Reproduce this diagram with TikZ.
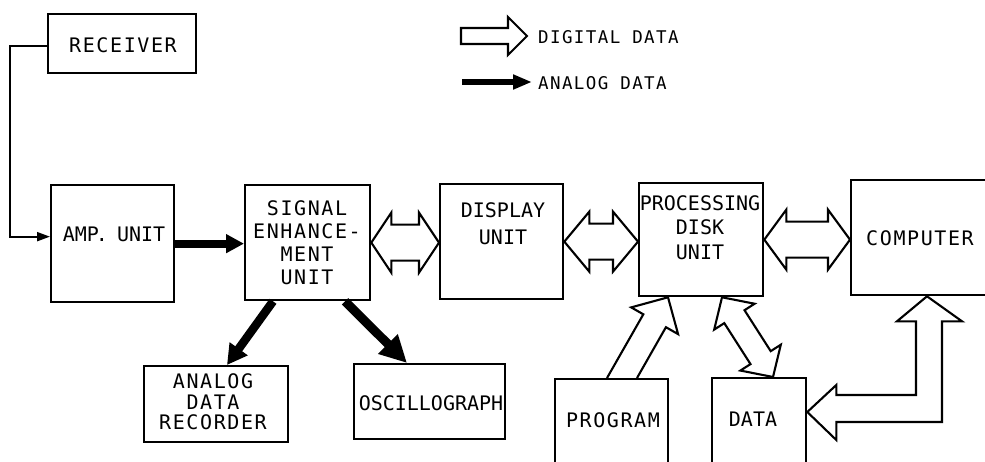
\documentclass[tikz,border=0pt]{standalone}
\usepackage{fontspec}
\newfontfamily\labtight{DejaVu Sans Mono}
\newfontfamily\labwide[LetterSpace=8]{DejaVu Sans Mono}
\usetikzlibrary{calc,arrows.meta}
\tikzset{
  box/.style={draw, line width=2.3pt, inner sep=0pt, anchor=north west},
  lbl/.style={font=\labwide\fontsize{20}{23}\selectfont, align=center, inner sep=0pt},
  lblt/.style={lbl, font=\labtight\fontsize{20}{23}\selectfont},
  legtxt/.style={font=\labwide\fontsize{17.5}{20}\selectfont, inner sep=0pt, anchor=west},
  digital/.style={draw, line width=2.1pt, line join=miter},
  analog/.style={line width=8pt, -{Triangle[length=18pt,width=18pt]}},
  wire/.style={line width=2pt, -{Triangle[length=13pt,width=9pt]}},
}
\newcommand\dblopen[5]{%
  \coordinate (dA) at ($(#1)!#3!(#2)$);
  \coordinate (dB) at ($(#2)!#3!(#1)$);
  \draw[digital] (#1) -- ($(dA)!#4!90:(#2)$) -- ($(dA)!#5!90:(#2)$)
    -- ($(dB)!#5!-90:(#1)$) -- ($(dB)!#4!-90:(#1)$) -- (#2)
    -- ($(dB)!#4!90:(#1)$) -- ($(dB)!#5!90:(#1)$)
    -- ($(dA)!#5!-90:(#2)$) -- ($(dA)!#4!-90:(#2)$) -- cycle;}
\begin{document}
\begin{tikzpicture}[x=1pt,y=-1pt]
\useasboundingbox (0,0) rectangle (985,462);
\fill[white] (0,0) rectangle (985,462);
\clip (0,0) rectangle (985,462);

% boxes
\node[box, minimum width=148pt, minimum height=59pt] (rec) at (47,13) {};
\node[box, minimum width=123pt, minimum height=117pt] (amp) at (50,184) {};
\node[box, minimum width=125pt, minimum height=115pt] (sig) at (244,184) {};
\node[box, minimum width=123pt, minimum height=115pt] (disp) at (439,183) {};
\node[box, minimum width=124pt, minimum height=113pt] (proc) at (638,182) {};
\node[box, minimum width=160pt, minimum height=115pt] (comp) at (850,179) {};
\node[box, minimum width=144pt, minimum height=76pt] (adr) at (143,365) {};
\node[box, minimum width=151pt, minimum height=75pt] (osc) at (353,363) {};
\node[box, minimum width=113pt, minimum height=100pt] (prog) at (554,378) {};
\node[box, minimum width=94pt, minimum height=100pt] (data) at (711,377) {};

% labels
\node[lbl] (recT) at (123,45) {RECEIVER};
\node[lblt] (ampT) at (114,234) {AMP\kern-3pt.\kern-3pt\ UNIT};
\node[lbl] (sigT) at (307,242.5) {SIGNAL\\ENHANCE-\\MENT\\UNIT};
\node[lblt, font=\labtight\fontsize{20}{27}\selectfont] (dispT) at (503,223.5) {DISPLAY\\UNIT};
\node[lblt, font=\labtight\fontsize{20}{24.5}\selectfont] (procT) at (700,227.5) {PROCESSING\\DISK\\UNIT};
\node[lbl] (compT) at (920,238) {COMPUTER};
\node[lbl, font=\labwide\fontsize{20}{20.5}\selectfont] (adrT) at (213,402) {ANALOG\\DATA\\RECORDER};
\node[lblt] (oscT) at (431,403) {OSCILLOGRAPH};
\node[lbl] (progT) at (613,420) {PROGRAM};
\node[lblt] (dataT) at (753,419) {DATA};

% legend
\coordinate (lgA) at (461,36);
\coordinate (lgB) at (527,36);
\draw[digital] ($(lgA)+(0,-8)$) -- ($(lgB)+(-19,-8)$) -- ($(lgB)+(-19,-19)$) -- (lgB)
  -- ($(lgB)+(-19,19)$) -- ($(lgB)+(-19,8)$) -- ($(lgA)+(0,8)$) -- cycle;
\coordinate (lgC) at (462,82);
\coordinate (lgD) at (532,82);
\draw[analog, line width=6pt, -{Triangle[length=19pt,width=14pt]}] (lgC) -- (lgD);
\node[legtxt] (lgT1) at (538,37) {DIGITAL DATA};
\node[legtxt] (lgT2) at (538,83) {ANALOG DATA};

% receiver wire
\draw[wire] ($(rec.west)+(0,2)$) -- ++(-37,0) |- ($(amp.west)+(0,-7)$);

% analog arrows
\draw[analog] (amp.east) -- (amp.east -| sig.west);
\draw[analog, line width=8.5pt, -{Triangle[length=20pt,width=21pt]}]
  ($(sig.south west)+(29,0)$) -- ($(adr.north west)+(84,0)$);
\draw[analog, line width=9pt, -{Triangle[length=27pt,width=26pt]}]
  ($(sig.south west)+(101,0)$) -- ($(osc.north west)+(54,0)$);

% digital double arrows
\coordinate (t1) at (sig.east -| disp.west);
\dblopen{sig.east}{t1}{20pt}{30pt}{18pt}
\coordinate (t2) at (disp.east -| proc.west);
\dblopen{disp.east}{t2}{25pt}{30pt}{18pt}
\coordinate (t3) at (proc.east -| comp.west);
\dblopen{proc.east}{t3}{22pt}{30pt}{18pt}
\coordinate (t4a) at ($(proc.south west)+(84,0)$);
\coordinate (t4b) at ($(data.north west)+(62,0)$);
\dblopen{t4a}{t4b}{23pt}{24pt}{12pt}

% program -> processing
\coordinate (pb1) at ($(prog.north west)+(53,0)$);
\coordinate (pb2) at ($(prog.north west)+(83,0)$);
\coordinate (pt) at ($(proc.south west)+(30,0)$);
\coordinate (pm) at ($(pb1)!0.5!(pb2)$);
\coordinate (ph) at ($(pt)!27pt!(pm)$);
\draw[digital] (pb1) -- ($(ph)!13pt!90:(pt)$) -- ($(ph)!27pt!90:(pt)$) -- (pt)
  -- ($(ph)!27pt!-90:(pt)$) -- ($(ph)!13pt!-90:(pt)$) -- (pb2);

% computer -> data elbow arrow
\coordinate (eU) at ($(comp.south west)+(77,0)$);
\coordinate (eL) at ($(data.north east)+(0,35)$);
\draw[digital] (eU) -- ++(-30,25) -- ($(eU)+(-11,25)$) |- ($(eL)+(29,-17)$) -- ++(0,-10)
  -- (eL) -- ($(eL)+(29,28)$) -- ($(eL)+(29,10)$) -| ($(eU)+(15,25)$) -- ++(20,0) -- cycle;
\end{tikzpicture}
\end{document}
